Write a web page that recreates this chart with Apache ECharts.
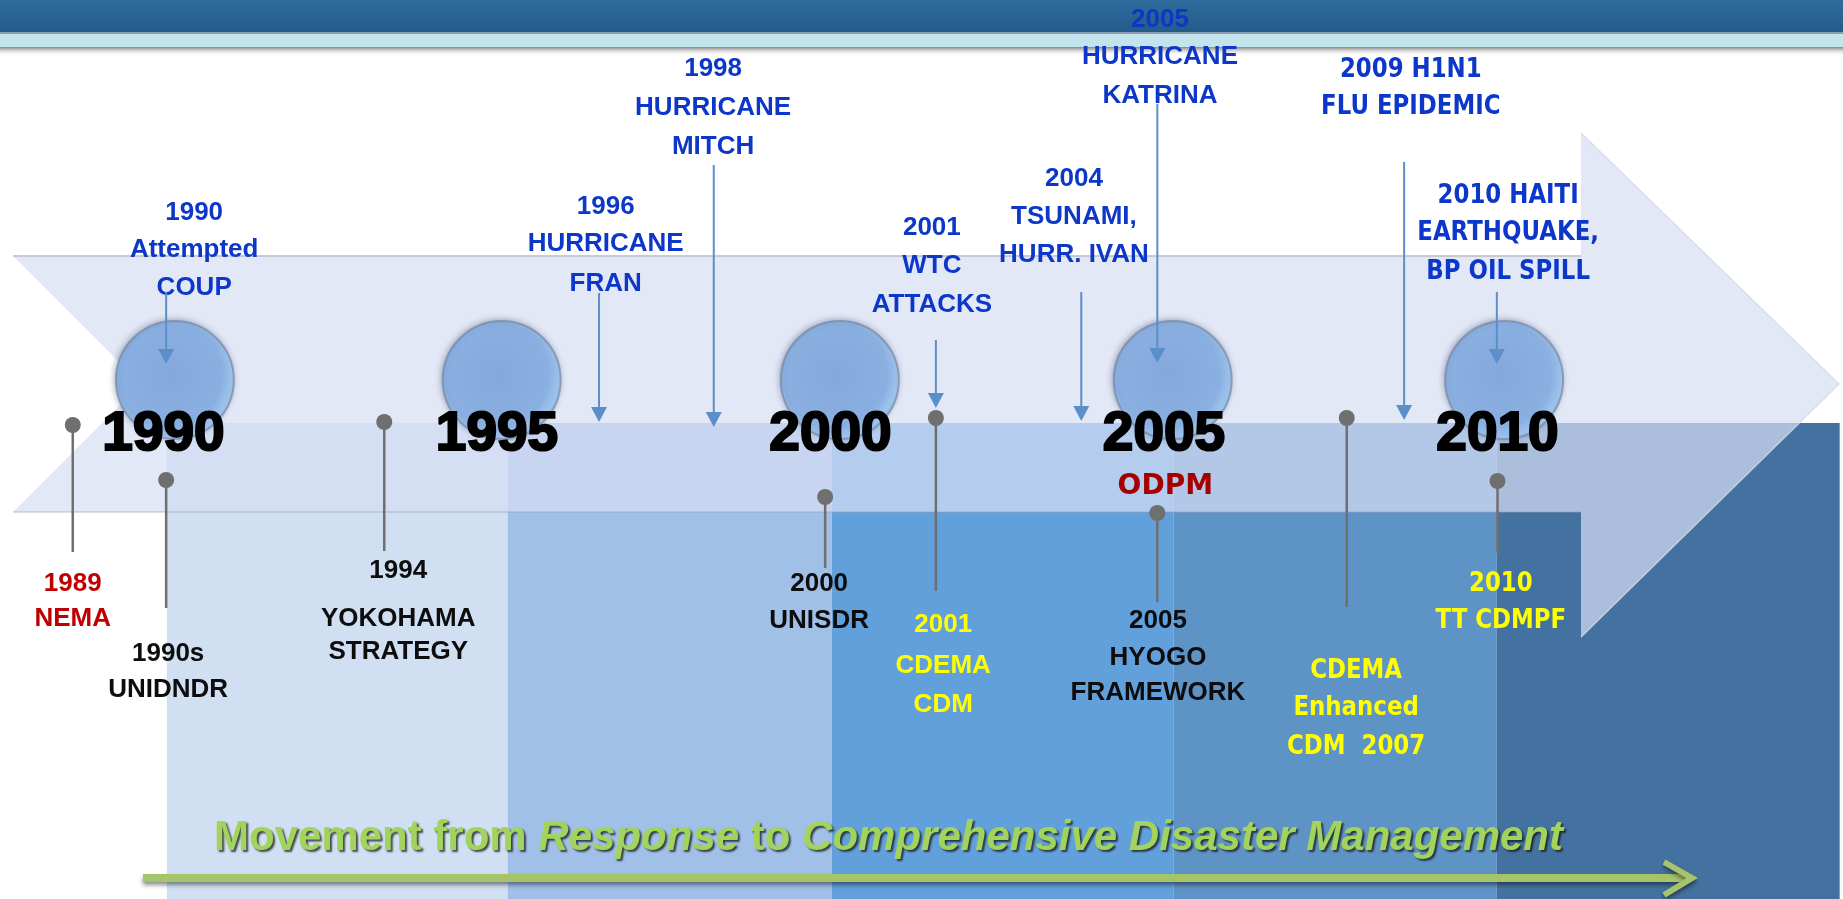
<!DOCTYPE html>
<html>
<head>
<meta charset="utf-8">
<script src="https://cdn.jsdelivr.net/npm/echarts@6/dist/echarts.min.js"></script>
<style>
  html, body { margin: 0; padding: 0; background: #fff; }
  #chart { width: 1843px; height: 899px; }
</style>
</head>
<body>
<div id="chart"></div>
<script>
// ---- data ----
// eras (staircase bands), in timeline years
var eraStarts = [1990.05, 1995.16, 2000.02, 2005.14, 2009.99];
var eraEnds = [1995.16, 2000.02, 2005.14, 2009.99, 2015.13];

// big year ticks and the bubbles above them
var yearTicks = ["1990", "1995", "2000", "2005", "2010"];
var yearTickPos = [1990, 1995, 2000, 2005, 2010];
var bubblePos = [1990.17, 1995.07, 2000.14, 2005.13, 2010.1];

// hazard events (blue, arrow pointing down onto the timeline)
var hazardNames = [
  "1990\nAttempted\nCOUP",
  "1996\nHURRICANE\nFRAN",
  "1998\nHURRICANE\nMITCH",
  "2001\nWTC\nATTACKS",
  "2004\nTSUNAMI,\nHURR. IVAN",
  "2005\nHURRICANE\nKATRINA",
  "2009 H1N1\nFLU EPIDEMIC",
  "2010 HAITI\nEARTHQUAKE,\nBP OIL SPILL"
];
var hazardPos = [1990.04, 1996.53, 1998.25, 2001.58, 2003.76, 2004.9, 2008.6, 2009.99];

// institutional milestones (pins hanging below the timeline)
var milestoneNames = [
  "1989\nNEMA",
  "1990s\nUNIDNDR",
  "1994\nYOKOHAMA\nSTRATEGY",
  "2000\nUNISDR",
  "2001\nCDEMA\nCDM",
  "2005\nHYOGO\nFRAMEWORK",
  "ODPM",
  "CDEMA\nEnhanced\nCDM  2007",
  "2010\nTT CDMPF"
];
var milestonePos = [1988.64, 1990.04, 1993.31, 1999.92, 2001.58, 2004.9, 2005.02, 2007.74, 2010.0];

var footerText = ["Movement from ", "Response", " to ", "Comprehensive Disaster Management"];

// ---- layout / style ----
var BLUE = "#0c37c9";
var FONT_C = "bold 26px 'Liberation Sans', Arial, sans-serif";
var FONT_T = "bold 26px 'DejaVu Sans', Verdana, sans-serif";
var eraColors = ["#d0e0f2", "#a0c0e8", "#62a0dc", "#5e93c6", "#4472a0"];

// tx = label centre (timeline years), ys = line centres, from/to = arrow span
var hazardLayout = [
  { tx: 1990.46, ys: [213, 250, 288], from: 292, to: 364, f: "c" },
  { tx: 1996.63, ys: [207, 244, 284], from: 293, to: 422, f: "c" },
  { tx: 1998.24, ys: [69, 108, 147], from: 165, to: 427, f: "c" },
  { tx: 2001.52, ys: [228, 266, 305], from: 340, to: 408, f: "c" },
  { tx: 2003.65, ys: [179, 217, 255], from: 292, to: 421, f: "c" },
  { tx: 2004.94, ys: [20, 57, 96], from: 104, to: 363, f: "c" },
  { tx: 2008.70, ys: [70, 107], from: 162, to: 420, f: "t" },
  { tx: 2010.16, ys: [196, 233, 272], from: 292, to: 364, f: "t" }
];

var milestoneLayout = [
  { dot: 425, end: 552, tx: 1988.64, ys: [584, 619], color: "#c00000", f: "c" },
  { dot: 480, end: 608, tx: 1990.07, ys: [654, 690], color: "#0d0d0d", f: "c" },
  { dot: 422, end: 551, tx: 1993.52, ys: [571, 619, 652], color: "#0d0d0d", f: "c" },
  { dot: 497, end: 568, tx: 1999.83, ys: [584, 621], color: "#0d0d0d", f: "c" },
  { dot: 418, end: 591, tx: 2001.69, ys: [625, 666, 705], color: "#ffff00", f: "c" },
  { dot: 513, end: 602, tx: 2004.91, ys: [621, 658, 693], color: "#0d0d0d", f: "c" },
  { dot: null, end: null, tx: 2005.02, ys: [487], color: "#a50000", f: "o" },
  { dot: 418, end: 607, tx: 2007.88, ys: [671, 708, 747], color: "#ffff00", f: "t" },
  { dot: 481, end: 553, tx: 2010.05, ys: [584, 621], color: "#ffff00", f: "t" }
];

function fontOf(key) {
  if (key === "t") return { font: FONT_T, sx: 0.88 };
  if (key === "o") return { font: "bold 28px 'DejaVu Sans', Verdana, sans-serif", sx: 1 };
  return { font: FONT_C, sx: 1 };
}

function textLines(api, text, layout, color) {
  var f = fontOf(layout.f);
  var x = api.coord([layout.tx, 0])[0];
  return text.split("\n").map(function(line, k) {
    return {
      type: "text",
      x: x,
      y: api.coord([0, layout.ys[k]])[1],
      scaleX: f.sx,
      style: {
        text: line, x: 0, y: 0, fill: color, font: f.font,
        align: "center", verticalAlign: "middle"
      }
    };
  });
}

var chart = echarts.init(document.getElementById("chart"), null, { renderer: "canvas" });

var option = {
  animation: false,
  grid: { left: 0, right: 0, top: 0, bottom: 0 },
  xAxis: { type: "value", min: 1987.549, max: 2015.18, show: false },
  yAxis: { type: "value", min: 0, max: 899, inverse: true, show: false },
  graphic: [
    // header band
    {
      type: "rect", z: 0, shape: { x: 0, y: 0, width: 1843, height: 33 },
      style: { fill: new echarts.graphic.LinearGradient(0, 0, 0, 1, [
        { offset: 0, color: "#2f6c9d" }, { offset: 1, color: "#245a8a" }]) }
    },
    { type: "rect", z: 0, shape: { x: 0, y: 32, width: 1843, height: 2 }, style: { fill: "#8a9cae" } },
    { type: "rect", z: 0, shape: { x: 0, y: 34, width: 1843, height: 13 }, style: { fill: "#c3e4ed" } },
    {
      type: "rect", z: 0, shape: { x: 0, y: 47, width: 1843, height: 9 },
      style: { fill: new echarts.graphic.LinearGradient(0, 0, 0, 1, [
        { offset: 0, color: "rgba(90,90,90,0.75)" }, { offset: 1, color: "rgba(255,255,255,0)" }]) }
    },
    // big timeline arrow (semi transparent, over the eras)
    {
      type: "polygon", z: 2,
      shape: { points: [[13, 256], [1581, 256], [1581, 133], [1839, 384], [1581, 637],
        [1581, 512], [13, 512], [141, 384]] },
      style: { fill: "rgba(215,222,244,0.70)" }
    },
    {
      type: "polyline", z: 2, shape: { points: [[13, 256], [1581, 256]] },
      style: { stroke: "rgba(195,198,208,0.9)", lineWidth: 2 }
    },
    {
      type: "polyline", z: 2, shape: { points: [[13, 512], [1581, 512]] },
      style: { stroke: "rgba(150,160,185,0.35)", lineWidth: 2 }
    },
    {
      type: "polyline", z: 2, shape: { points: [[1581, 133], [1839, 384], [1581, 637]] },
      style: { stroke: "rgba(215,218,228,0.8)", lineWidth: 1.5, fill: null }
    },
    // footer arrow
    {
      type: "polyline", z: 6, shape: { points: [[143, 878], [1688, 878]] },
      style: { stroke: "#a6c46a", lineWidth: 8, shadowBlur: 4, shadowColor: "rgba(0,0,0,0.45)", shadowOffsetY: 3 }
    },
    {
      type: "polyline", z: 6, shape: { points: [[1664, 862], [1692, 878], [1664, 895]] },
      style: { stroke: "#a6c46a", lineWidth: 6, fill: null, shadowBlur: 4, shadowColor: "rgba(0,0,0,0.45)", shadowOffsetY: 3 }
    },
    {
      type: "text", z: 6, x: 214, y: 838,
      style: {
        text: "{n|" + footerText[0] + "}{i|" + footerText[1] + "}{n|" + footerText[2] + "}{i|" + footerText[3] + "}",
        verticalAlign: "middle", align: "left",
        rich: {
          n: { fill: "#a2d45c", fontSize: 42, fontWeight: "bold", fontFamily: "'Liberation Sans', Arial, sans-serif",
            textShadowColor: "rgba(20,20,20,0.75)", textShadowOffsetX: 2, textShadowOffsetY: 2, textShadowBlur: 2 },
          i: { fill: "#a2d45c", fontSize: 42, fontWeight: "bold", fontStyle: "italic", fontFamily: "'Liberation Sans', Arial, sans-serif",
            textShadowColor: "rgba(20,20,20,0.75)", textShadowOffsetX: 2, textShadowOffsetY: 2, textShadowBlur: 2 }
        }
      }
    }
  ],
  series: [
    {
      name: "eras", type: "custom", z: 1, silent: true,
      data: eraStarts.map(function(s, i) { return [s, eraEnds[i], i]; }),
      encode: { x: [0, 1] },
      renderItem: function(params, api) {
        var p0 = api.coord([api.value(0), 423]);
        var p1 = api.coord([api.value(1), 899]);
        return {
          type: "rect",
          shape: { x: p0[0], y: p0[1], width: p1[0] - p0[0], height: p1[1] - p0[1] },
          style: { fill: eraColors[params.dataIndex] }
        };
      }
    },
    {
      name: "bubbles", type: "custom", z: 3, silent: true,
      data: bubblePos.map(function(p) { return [p, 380]; }),
      renderItem: function(params, api) {
        var c = api.coord([api.value(0), api.value(1)]);
        return {
          type: "circle",
          shape: { cx: c[0], cy: c[1], r: 59 },
          style: {
            fill: new echarts.graphic.RadialGradient(0.46, 0.46, 0.56, [
              { offset: 0, color: "#85a8da" },
              { offset: 0.78, color: "#8aafe1" },
              { offset: 0.93, color: "#a4caf3" },
              { offset: 1, color: "#98bde6" }
            ]),
            stroke: "rgba(110,128,156,0.6)", lineWidth: 2,
            shadowBlur: 6, shadowColor: "rgba(40,50,80,0.35)", shadowOffsetX: -1, shadowOffsetY: -1
          }
        };
      }
    },
    {
      name: "years", type: "custom", z: 4, silent: true,
      data: yearTickPos.map(function(p) { return [p, 435]; }),
      renderItem: function(params, api) {
        var c = api.coord([api.value(0), api.value(1)]);
        return {
          type: "text", x: c[0], y: c[1],
          style: {
            text: yearTicks[params.dataIndex], x: 0, y: 0,
            font: "bold 55px 'Liberation Sans', Arial, sans-serif",
            fill: "#000", stroke: "#000", lineWidth: 2.2,
            align: "center", verticalAlign: "middle"
          }
        };
      }
    },
    {
      name: "hazards", type: "custom", z: 5, silent: true,
      data: hazardPos.map(function(p, i) { return [p, i]; }),
      renderItem: function(params, api) {
        var L = hazardLayout[params.dataIndex];
        var x = api.coord([api.value(0), 0])[0];
        var y0 = api.coord([0, L.from])[1];
        var y1 = api.coord([0, L.to])[1];
        var children = textLines(api, hazardNames[params.dataIndex], L, BLUE);
        children.push({
          type: "line", shape: { x1: x, y1: y0, x2: x, y2: y1 - 12 },
          style: { stroke: "#5b8fca", lineWidth: 2 }
        });
        children.push({
          type: "polygon", shape: { points: [[x - 8, y1 - 15], [x + 8, y1 - 15], [x, y1]] },
          style: { fill: "#5b8fca" }
        });
        return { type: "group", children: children };
      }
    },
    {
      name: "milestones", type: "custom", z: 5, silent: true,
      data: milestonePos.map(function(p, i) { return [p, i]; }),
      renderItem: function(params, api) {
        var L = milestoneLayout[params.dataIndex];
        var x = api.coord([api.value(0), 0])[0];
        var children = textLines(api, milestoneNames[params.dataIndex], L, L.color);
        if (L.dot != null) {
          var yd = api.coord([0, L.dot])[1];
          var ye = api.coord([0, L.end])[1];
          children.push({
            type: "line", shape: { x1: x, y1: yd, x2: x, y2: ye },
            style: { stroke: "#6f6f6f", lineWidth: 2.5 }
          });
          children.push({
            type: "circle", shape: { cx: x, cy: yd, r: 8 },
            style: { fill: "#6f6f6f" }
          });
        }
        return { type: "group", children: children };
      }
    }
  ]
};

chart.setOption(option);
</script>
</body>
</html>
